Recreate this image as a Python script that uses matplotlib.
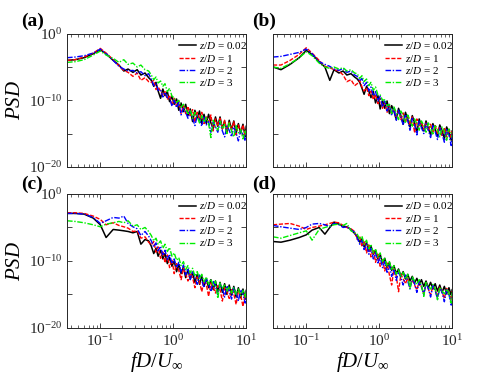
import numpy as np
import matplotlib
matplotlib.use("Agg")
import matplotlib.pyplot as plt
from matplotlib.ticker import NullLocator, LogLocator

plt.rcParams['font.family'] = ['Liberation Serif', 'DejaVu Serif']
plt.rcParams['mathtext.fontset'] = 'custom'
plt.rcParams['mathtext.rm'] = 'Liberation Serif'
plt.rcParams['mathtext.it'] = 'Liberation Serif:italic'

# frequency fD/U (shared by all curves)
freq = [0.035, 0.045, 0.06, 0.08, 0.1, 0.12, 0.15, 0.18, 0.21, 0.24, 0.28, 0.32, 0.36, 0.41, 0.46,
        0.5, 0.54, 0.58, 0.62, 0.67, 0.72, 0.77, 0.83, 0.89, 0.96, 1.03, 1.11, 1.19, 1.28, 1.38,
        1.48, 1.59, 1.71, 1.84, 1.98, 2.13, 2.29, 2.46, 2.64, 2.84, 3.05, 3.28, 3.53, 3.79, 4.08,
        4.38, 4.71, 5.06, 5.44, 5.85, 6.29, 6.76, 7.27, 7.81, 8.4, 9.03, 9.7, 10.0]

labels = ['$z/D$ = 0.02', '$z/D$ = 1', '$z/D$ = 2', '$z/D$ = 3']

# log10(PSD)
a_k = [-4.0, -3.9, -3.6, -3.0, -2.4, -3.0, -4.0, -4.7, -5.6, -5.3, -5.8, -5.4, -6.2, -5.9, -6.6,
       -7.0, -7.9, -7.3, -8.6, -9.7, -8.3, -9.3, -8.7, -10.2, -9.4, -10.6, -9.8, -11.5, -10.4, -11.7,
       -10.6, -12.3, -11.3, -13.2, -11.5, -12.7, -11.6, -13.5, -12.1, -13.5, -12.1, -13.4, -14.2, -12.5,
       -13.9, -12.5, -14.3, -13.1, -14.9, -13.0, -14.4, -13.1, -14.9, -13.5, -14.9, -13.6, -15.5, -13.9]
a_r = [-4.0, -3.9, -3.5, -2.9, -2.2, -2.9, -3.9, -4.8, -5.5, -5.8, -6.4, -5.9, -7.0, -6.6, -7.2,
       -7.3, -7.0, -8.4, -8.0, -8.6, -9.4, -8.7, -9.9, -9.2, -10.8, -9.7, -10.9, -10.1, -12.0, -10.8,
       -12.0, -10.9, -12.3, -11.4, -13.3, -11.8, -12.9, -11.8, -13.5, -12.5, -13.3, -12.2, -14.6, -12.8,
       -13.9, -12.7, -14.3, -13.0, -14.7, -13.3, -14.4, -13.2, -15.2, -13.7, -14.9, -13.7, -15.3, -14.2]
a_b = [-3.6, -3.5, -3.3, -2.9, -2.3, -3.0, -4.0, -4.9, -5.3, -5.6, -5.5, -5.9, -5.7, -6.3, -6.0,
       -6.8, -7.8, -7.5, -8.5, -8.4, -9.5, -8.8, -9.6, -9.6, -10.9, -10.0, -11.1, -10.3, -12.2, -11.2,
       -11.8, -12.7, -11.6, -12.7, -13.8, -12.3, -12.9, -13.9, -12.4, -13.7, -13.2, -14.8, -13.3, -14.0,
       -14.8, -13.3, -14.6, -15.5, -13.9, -14.5, -15.5, -14.0, -14.9, -16.1, -14.5, -15.1, -16.1, -15.0]
a_g = [-4.3, -4.2, -3.9, -3.2, -2.6, -3.2, -3.7, -4.3, -3.9, -4.6, -4.4, -5.0, -4.7, -5.4, -5.6,
       -6.2, -6.9, -6.5, -7.4, -7.1, -7.9, -7.5, -8.7, -8.2, -9.4, -9.6, -10.3, -10.0, -11.0, -10.6,
       -11.3, -12.0, -11.4, -12.7, -11.8, -12.5, -13.4, -12.3, -13.3, -12.6, -13.5, -15.6, -13.0, -13.9,
       -14.5, -13.1, -14.3, -13.6, -15.0, -13.4, -14.6, -15.5, -13.8, -14.9, -14.4, -15.8, -14.5, -15.2]

b_k = [-5.0, -5.4, -4.6, -3.6, -2.5, -3.1, -4.2, -5.0, -7.0, -5.4, -5.9, -5.6, -6.2, -6.0, -6.5,
       -6.8, -7.3, -8.2, -9.1, -7.9, -8.6, -9.6, -8.7, -10.4, -9.3, -11.3, -10.0, -11.2, -10.1, -12.0,
       -10.8, -11.6, -12.9, -11.2, -12.3, -13.6, -11.8, -12.9, -14.0, -12.3, -13.4, -14.8, -12.8, -13.9,
       -14.6, -13.1, -14.2, -15.2, -13.5, -14.4, -15.4, -13.7, -14.6, -15.7, -14.0, -14.9, -16.0, -14.6]
b_r = [-4.7, -4.7, -4.0, -3.1, -2.1, -2.9, -4.0, -4.9, -5.1, -5.4, -5.6, -6.2, -7.2, -6.9, -7.8,
       -7.5, -7.0, -8.0, -8.6, -8.1, -9.3, -8.6, -9.9, -9.1, -10.5, -9.7, -11.2, -10.3, -11.8, -10.8,
       -12.1, -11.2, -12.5, -11.6, -12.9, -11.9, -13.3, -12.3, -13.7, -12.5, -14.9, -12.8, -14.0, -13.2,
       -14.4, -13.4, -14.6, -13.6, -15.0, -13.8, -15.0, -13.9, -15.3, -14.1, -15.5, -14.3, -15.6, -14.6]
b_b = [-3.5, -3.4, -3.1, -2.8, -2.3, -3.0, -4.2, -4.6, -4.9, -5.3, -5.5, -5.2, -5.8, -5.6, -6.2,
       -6.4, -7.1, -6.7, -7.8, -7.3, -8.6, -8.0, -9.3, -8.7, -10.1, -9.4, -11.0, -10.1, -11.6, -10.7,
       -12.3, -11.1, -13.1, -11.5, -12.5, -13.7, -12.1, -13.0, -14.5, -12.7, -13.6, -15.2, -13.1, -14.1,
       -15.0, -13.5, -14.5, -15.6, -13.8, -14.7, -15.9, -14.1, -15.0, -16.3, -14.4, -15.2, -16.8, -15.0]
b_g = [-5.0, -5.2, -4.5, -3.6, -2.7, -3.3, -4.4, -5.0, -5.2, -5.0, -5.3, -5.1, -5.6, -5.4, -5.9,
       -6.0, -6.7, -6.3, -7.2, -6.8, -7.8, -7.3, -8.5, -8.0, -9.2, -9.2, -10.0, -9.9, -10.8, -10.6,
       -12.0, -11.0, -11.8, -12.9, -11.6, -12.3, -13.3, -12.2, -13.0, -13.9, -12.8, -13.5, -14.5, -13.1,
       -13.8, -14.8, -13.4, -14.1, -15.2, -13.7, -14.4, -15.5, -14.0, -14.7, -16.0, -14.3, -15.0, -15.6]

c_k = [-2.9, -2.9, -3.0, -3.6, -4.6, -6.5, -5.3, -5.4, -5.5, -5.6, -5.8, -5.6, -7.5, -6.8, -7.0,
       -7.8, -8.9, -8.1, -9.3, -8.4, -9.7, -8.9, -10.4, -9.5, -10.8, -10.0, -11.6, -10.5, -11.9, -10.9,
       -12.5, -11.3, -12.7, -11.7, -13.2, -12.0, -13.5, -12.3, -13.8, -12.6, -14.0, -12.8, -14.3, -13.0,
       -14.6, -13.2, -14.7, -13.4, -15.0, -13.6, -15.1, -13.8, -15.4, -14.0, -15.5, -14.2, -15.7, -14.4]
c_r = [-2.8, -2.8, -2.9, -3.3, -3.8, -4.6, -4.3, -4.7, -4.9, -5.1, -5.6, -5.5, -6.6, -6.4, -7.2,
       -7.6, -7.1, -8.7, -7.9, -9.6, -8.5, -10.3, -9.1, -11.0, -9.8, -11.9, -10.4, -11.4, -12.8, -11.1,
       -11.9, -13.0, -11.8, -12.5, -14.0, -12.4, -13.1, -14.6, -12.9, -13.5, -15.3, -13.3, -13.9, -14.8,
       -13.7, -14.3, -16.0, -14.0, -14.6, -15.6, -14.3, -14.9, -16.5, -14.5, -15.1, -16.8, -14.9, -15.8]
c_b = [-2.9, -2.9, -3.0, -3.5, -4.4, -4.0, -3.5, -3.6, -3.3, -4.4, -4.9, -5.2, -6.2, -5.6, -6.3,
       -7.0, -7.9, -7.3, -8.5, -7.8, -9.2, -8.4, -9.8, -9.0, -10.4, -9.7, -11.0, -10.2, -11.7, -10.6,
       -12.1, -11.1, -12.8, -11.5, -12.4, -13.5, -12.1, -12.9, -14.0, -12.6, -13.4, -14.6, -13.0, -13.8,
       -15.0, -13.4, -14.1, -15.4, -13.7, -14.4, -15.7, -14.0, -14.7, -16.0, -14.3, -15.0, -16.3, -14.7]
c_g = [-4.0, -4.1, -4.3, -4.6, -4.9, -4.5, -4.3, -4.1, -4.3, -4.0, -4.8, -4.6, -5.3, -5.0, -5.6,
       -6.2, -7.0, -6.6, -7.5, -7.0, -8.1, -7.5, -8.6, -8.0, -9.3, -8.8, -9.9, -9.5, -10.7, -10.1,
       -11.3, -10.7, -11.8, -11.1, -12.3, -11.6, -12.7, -12.0, -13.1, -12.4, -13.5, -12.7, -13.8, -13.0,
       -15.6, -13.3, -14.1, -13.6, -14.5, -13.8, -14.8, -14.0, -15.0, -14.2, -15.2, -14.4, -15.4, -14.6]

d_k = [-7.1, -7.2, -6.9, -6.5, -6.1, -5.4, -5.0, -6.0, -5.0, -4.2, -4.5, -4.8, -4.9, -5.3, -5.9,
       -6.4, -7.2, -6.7, -7.9, -7.3, -8.4, -7.8, -9.0, -8.4, -9.7, -9.0, -10.3, -9.6, -11.0, -10.2,
       -11.4, -10.7, -11.9, -11.2, -12.3, -11.6, -12.7, -12.0, -13.0, -12.3, -13.3, -12.6, -13.6, -12.8,
       -13.8, -13.0, -14.0, -13.2, -14.2, -13.4, -14.5, -13.6, -14.7, -13.8, -14.9, -14.0, -15.1, -14.3]
d_r = [-4.6, -4.5, -4.4, -4.8, -5.3, -5.0, -4.8, -4.6, -4.4, -4.2, -4.3, -4.7, -5.0, -5.2, -5.6,
       -6.8, -6.3, -7.9, -7.0, -8.8, -7.6, -9.4, -8.3, -10.2, -9.0, -10.8, -9.7, -11.5, -10.3, -12.1,
       -13.6, -11.2, -12.2, -14.6, -12.0, -12.7, -13.4, -12.5, -13.9, -12.8, -13.6, -14.3, -13.1, -13.9,
       -14.9, -13.4, -14.2, -15.1, -13.7, -14.4, -15.3, -13.9, -14.6, -15.6, -14.1, -14.8, -15.8, -14.5]
d_b = [-4.7, -4.9, -5.1, -5.3, -5.0, -4.5, -4.4, -4.6, -4.9, -4.4, -4.6, -5.0, -4.9, -5.4, -5.7,
       -6.6, -7.5, -6.9, -8.3, -7.5, -9.0, -8.1, -9.7, -8.8, -10.3, -9.4, -11.0, -10.1, -11.7, -10.7,
       -12.3, -11.2, -12.9, -11.6, -12.5, -13.6, -12.1, -13.0, -14.2, -12.6, -13.4, -14.7, -13.0, -13.8,
       -15.0, -13.4, -14.1, -15.4, -13.7, -14.4, -15.7, -14.0, -14.7, -16.1, -14.3, -15.0, -16.6, -14.9]
d_g = [-6.4, -6.6, -6.2, -5.8, -5.5, -6.9, -5.3, -5.0, -4.8, -4.6, -4.5, -4.7, -4.4, -5.5, -5.8,
       -6.0, -6.8, -6.3, -7.5, -6.9, -8.2, -7.5, -8.8, -8.2, -9.5, -8.8, -10.1, -9.5, -10.8, -10.1,
       -11.4, -10.7, -12.0, -11.2, -12.4, -11.7, -12.7, -12.0, -14.2, -12.4, -13.0, -13.5, -12.8, -13.6,
       -15.3, -13.2, -13.8, -14.2, -13.5, -14.1, -15.8, -13.9, -14.5, -14.9, -14.2, -14.8, -16.3, -14.7]

panels = [('(a)', [a_k, a_r, a_b, a_g]), ('(b)', [b_k, b_r, b_b, b_g]),
          ('(c)', [c_k, c_r, c_b, c_g]), ('(d)', [d_k, d_r, d_b, d_g])]

colors = ['k', '#ff0000', '#0000ff', '#00ee00']
styles = ['-', (0, (3, 1.2)), (0, (4, 1.2, 1, 1.2)), (0, (4, 1.2, 1, 1.2))]
widths = [1.1, 1.0, 1.0, 1.0]

# axes boxes in figure fractions (479 x 388 px)
boxes = [[0.140, 0.570, 0.374, 0.343], [0.570, 0.570, 0.374, 0.343],
         [0.140, 0.155, 0.374, 0.345], [0.570, 0.155, 0.374, 0.345]]
tag_pos = [(0.044, 0.945), (0.526, 0.945), (0.044, 0.525), (0.526, 0.525)]


def main():
    fig = plt.figure(figsize=(4.79, 3.88), dpi=100)
    for i, (tag, curves) in enumerate(panels):
        ax = fig.add_axes(boxes[i])
        for j in range(4):
            ax.loglog(freq, 10.0 ** np.array(curves[j]), color=colors[j], ls=styles[j],
                      lw=widths[j], label=labels[j])
        style_axes(ax, bottom=(i >= 2), left=(i % 2 == 0))
        ax.legend(loc='upper right', bbox_to_anchor=(1.03, 0.985), frameon=False, fontsize=8,
                  handlelength=1.5, handletextpad=0.3, labelspacing=0.12, borderaxespad=0.0)
        fig.text(tag_pos[i][0], tag_pos[i][1], tag, fontsize=14, fontweight='bold',
                 ha='left', va='center')
    fig.savefig('out.png', dpi=100)


def style_axes(ax, bottom, left):
    ax.set_xlim(0.035, 10)
    ax.set_ylim(1e-20, 1e0)
    ax.set_yticks([1e-20, 1e-15, 1e-10, 1e-5, 1e0])
    ax.yaxis.set_minor_locator(NullLocator())
    ax.set_xticks([0.1, 1, 10])
    ax.xaxis.set_minor_locator(LogLocator(base=10, subs=np.arange(2, 10)))
    ax.tick_params(which='both', direction='in', top=True, right=True, colors='#262626',
                   labelsize=11)
    ax.tick_params(which='major', length=3.5, width=0.6)
    ax.tick_params(which='minor', length=2, width=0.5)
    for s in ax.spines.values():
        s.set_color('#262626')
        s.set_linewidth(0.7)
    if left:
        ax.set_yticklabels(['$10^{-20}$', '', '$10^{-10}$', '', '$10^{0}$'])
        ax.set_ylabel('$PSD$', fontsize=15)
        ax.yaxis.set_label_coords(-0.235, 0.5)
    else:
        ax.set_yticklabels([])
    if bottom:
        ax.set_xticklabels(['$10^{-1}$', '$10^{0}$', '$10^{1}$'])
        ax.set_xlabel(r'$fD/U_{\infty}$', fontsize=15, labelpad=1)
    else:
        ax.set_xticklabels([])


main()
